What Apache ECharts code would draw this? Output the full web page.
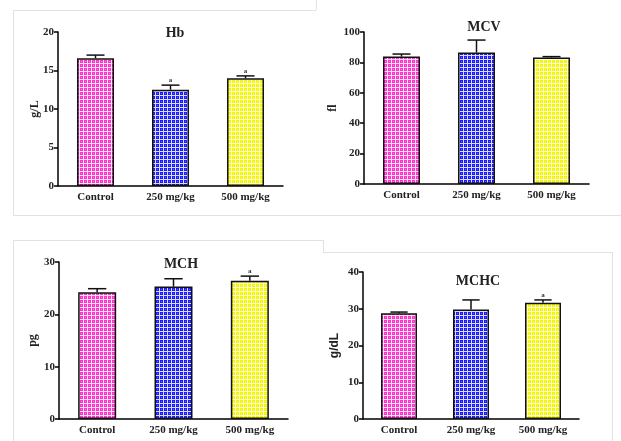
<!DOCTYPE html>
<html><head><meta charset="utf-8">
<script src="https://cdn.jsdelivr.net/npm/echarts@6/dist/echarts.min.js"></script>
<style>html,body{margin:0;padding:0;background:#fff}#c{width:621px;height:441px}</style>
</head><body><div id="c"></div>
<script>
const categories = ['Control', '250 mg/kg', '500 mg/kg'];
const hbMean = [16.6, 12.5, 14.0];
const hbErr = [0.4, 0.6, 0.3];
const hbSig = ['', 'a', 'a'];
const mcvMean = [83.8, 86.5, 83.2];
const mcvErr = [1.7, 8.2, 0.6];
const mcvSig = ['', '', ''];
const mchMean = [24.2, 25.3, 26.4];
const mchErr = [0.7, 1.5, 0.9];
const mchSig = ['', '', 'a'];
const mchcMean = [28.8, 29.8, 31.6];
const mchcErr = [0.3, 2.6, 0.8];
const mchcSig = ['', '', 'a'];
const panelTitles = ['Hb', 'MCV', 'MCH', 'MCHC'];
const yNames = ['g/L', 'fl', 'pg', 'g/dL'];
const yMax = [20, 100, 30, 40];
const yInterval = [5, 20, 10, 10];

const barColors = ['#ff33cc', '#1a1aff', '#f5f500'];
function makePattern(col) {
  const c = document.createElement('canvas');
  c.width = 4; c.height = 4;
  const g = c.getContext('2d');
  g.fillStyle = col; g.fillRect(0, 0, 4, 4);
  g.fillStyle = 'rgba(255,255,255,0.85)';
  g.fillRect(3, 0, 1, 4); g.fillRect(0, 3, 3, 1);
  g.fillStyle = 'rgba(255,255,255,0.35)';
  g.fillRect(1, 1, 1, 1);
  return { image: c, repeat: 'repeat' };
}
const patterns = barColors.map(makePattern);

const grids = [
  { left: 58, top: 32, width: 225, height: 154 },
  { left: 364, top: 32, width: 225, height: 152 },
  { left: 59, top: 262, width: 229, height: 157 },
  { left: 363, top: 272, width: 216, height: 147 }
];
const titlePos = [[170, 21], [479, 15], [176, 252], [473, 269]];
const nameGaps = [17, 25, 20, 22];
const means = [hbMean, mcvMean, mchMean, mchcMean];
const errs = [hbErr, mcvErr, mchErr, mchcErr];
const sigs = [hbSig, mcvSig, mchSig, mchcSig];
const barWidths = [37, 37, 38, 36];

const serif = '"Liberation Serif", "Times New Roman", serif';
const sans = '"Liberation Sans", Arial, sans-serif';

const xAxis = [], yAxis = [], series = [], title = [];
for (let i = 0; i < 4; i++) {
  xAxis.push({
    type: 'category', gridIndex: i, data: categories,
    axisLine: { lineStyle: { color: '#000', width: 1.5 } },
    axisTick: { alignWithLabel: true, length: 4, lineStyle: { color: '#000', width: 1.5 } },
    axisLabel: { color: '#222', fontFamily: serif, fontWeight: 'bold', fontSize: 11, margin: 6 }
  });
  yAxis.push({
    type: 'value', gridIndex: i, min: 0, max: yMax[i], interval: yInterval[i],
    name: yNames[i], nameLocation: 'middle', nameGap: nameGaps[i], nameRotate: 90,
    nameMoveOverlap: false,
    nameTextStyle: { color: '#222', fontFamily: i === 3 ? sans : serif, fontWeight: 'bold', fontSize: 12 },
    axisLine: { show: true, lineStyle: { color: '#000', width: 1.5 } },
    axisTick: { show: true, length: 4, lineStyle: { color: '#000', width: 1.5 } },
    axisLabel: { color: '#222', fontFamily: serif, fontWeight: 'bold', fontSize: 11, margin: 4 },
    splitLine: { show: false }
  });
  title.push({
    text: panelTitles[i], left: titlePos[i][0], top: titlePos[i][1], textAlign: 'center',
    textStyle: { fontFamily: serif, fontWeight: 'bold', fontSize: 14, color: '#222' }
  });
  series.push({
    type: 'bar', xAxisIndex: i, yAxisIndex: i, barWidth: barWidths[i],
    data: means[i].map((v, k) => ({ value: v, itemStyle: { color: patterns[k] } })),
    itemStyle: { borderColor: '#111', borderWidth: 1.5 },
    z: 2
  });
  series.push({
    type: 'custom', xAxisIndex: i, yAxisIndex: i, z: 5,
    data: means[i].map((v, k) => [k, v, errs[i][k]]),
    renderItem: function (params, api) {
      const k = api.value(0), m = api.value(1), e = api.value(2);
      const sig = sigs[params.seriesIndex >> 1][params.dataIndex];
      const base = api.coord([k, m]);
      const top = api.coord([k, m + e]);
      const half = api.size([1, 0])[0] * 0.12;
      const children = [
        { type: 'line', shape: { x1: top[0], y1: base[1], x2: top[0], y2: top[1] }, style: { stroke: '#111', lineWidth: 1.5 } },
        { type: 'line', shape: { x1: top[0] - half, y1: top[1], x2: top[0] + half, y2: top[1] }, style: { stroke: '#111', lineWidth: 1.5 } }
      ];
      if (sig) {
        children.push({ type: 'text', style: { text: sig, x: top[0], y: top[1] - 1, align: 'center', verticalAlign: 'bottom', fontSize: 7, fontWeight: 'bold', fontFamily: serif, fill: '#333' } });
      }
      return { type: 'group', children: children };
    }
  });
}

const borderStyle = { stroke: '#e2e2e2', lineWidth: 1 };
const lines = [
  [13, 10.5, 316, 10.5], [316.5, 0, 316.5, 10],
  [13.5, 10, 13.5, 215], [13, 215.5, 621, 215.5],
  [13, 240.5, 323, 240.5], [13.5, 240, 13.5, 441],
  [323.5, 240, 323.5, 252], [323, 252.5, 612, 252.5], [612.5, 252, 612.5, 441]
];
const graphic = lines.map(l => ({ type: 'line', silent: true, z: -1, shape: { x1: l[0], y1: l[1], x2: l[2], y2: l[3] }, style: borderStyle }));

const chart = echarts.init(document.getElementById('c'));
chart.setOption({
  animation: false,
  backgroundColor: '#fff',
  title: title,
  grid: grids,
  xAxis: xAxis,
  yAxis: yAxis,
  series: series,
  graphic: graphic
});
</script></body></html>
